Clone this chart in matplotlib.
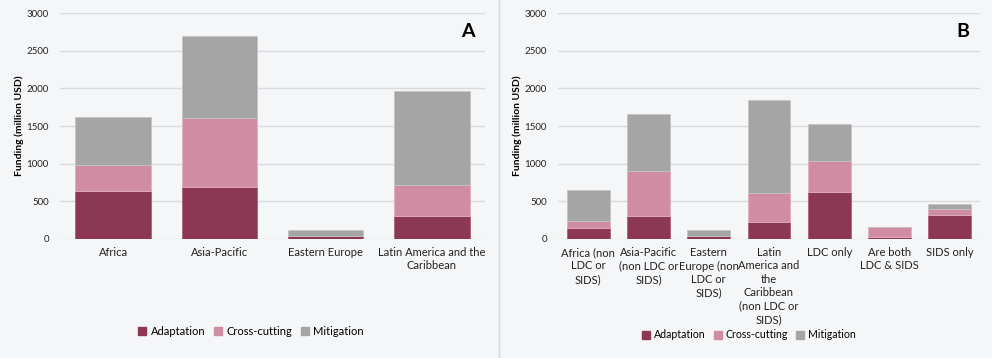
import numpy as np
import matplotlib.pyplot as plt
from matplotlib.lines import Line2D

# ---------------------------------------------------------------------------
# Data (million USD)
# ---------------------------------------------------------------------------
regions_a = ['Africa', 'Asia-Pacific', 'Eastern Europe',
             'Latin America and the\nCaribbean']
adapt_a = [635, 684, 36, 306]
cross_a = [346, 927, 6, 409]
mitig_a = [643, 1088, 70, 1252]

regions_b = ['Africa (non\nLDC or\nSIDS)', 'Asia-Pacific\n(non LDC or\nSIDS)',
             'Eastern\nEurope (non\nLDC or\nSIDS)',
             'Latin\nAmerica and\nthe\nCaribbean\n(non LDC or\nSIDS)',
             'LDC only', 'Are both\nLDC & SIDS', 'SIDS only']
adapt_b = [146, 306, 36, 226, 622, 27, 316]
cross_b = [90, 595, 6, 378, 409, 125, 79]
mitig_b = [416, 755, 70, 1243, 492, 4, 67]

series = ['Adaptation', 'Cross-cutting', 'Mitigation']
colors = ['#8c3753', '#cf8ca2', '#a5a5a5']
edges = ['#b0607a', '#e2b0c0', '#c4c4c4']

BG = '#f5f6f8'
plt.rcParams['font.family'] = ['Lato', 'DejaVu Sans']

fig = plt.figure(figsize=(9.92, 3.58), dpi=100, facecolor=BG)


def draw_panel(ax, cats, stacks, letter, legend_xy, legend_size):
    ax.set_facecolor(BG)
    x = np.arange(len(cats))
    bottom = np.zeros(len(cats))
    for vals, c, ec in zip(stacks, colors, edges):
        ax.bar(x, vals, width=0.71, bottom=bottom, color=c, edgecolor=ec,
               linewidth=0.6, zorder=3)
        bottom += np.array(vals)
    ax.set_ylim(0, 3000)
    ax.set_xlim(-0.5, len(cats) - 0.5)
    ax.set_yticks(np.arange(0, 3001, 500))
    ax.yaxis.grid(True, color='#dadbde', linewidth=1, zorder=0)
    for s in ax.spines.values():
        s.set_visible(False)
    ax.tick_params(axis='x', length=0, labelsize=8, colors='#222222', pad=6)
    ax.tick_params(axis='y', length=0, labelsize=7, colors='#222222', pad=8)
    ax.set_xticks(x)
    ax.set_xticklabels(cats, linespacing=1.27)
    ax.set_ylabel('Funding (million USD)', fontsize=7.5, fontweight='bold',
                  labelpad=2)
    ax.text(0.975, 0.955, letter, transform=ax.transAxes, ha='right',
            va='top', fontsize=14, fontweight='bold')
    handles = [Line2D([], [], marker='s', linestyle='none', markersize=5.5,
                      markerfacecolor=c, markeredgecolor=c) for c in colors]
    # legend is centred on the panel half of the figure, not on the axes
    ax.legend(handles, series, loc='center', ncol=3, frameon=False,
              bbox_to_anchor=legend_xy, bbox_transform=fig.transFigure,
              fontsize=legend_size, handlelength=0.7, handletextpad=0.4,
              columnspacing=0.8, borderaxespad=0)


ax_a = fig.add_axes([60 / 992, 1 - 238.7 / 358, 425 / 992, 225.4 / 358])
draw_panel(ax_a, regions_a, [adapt_a, cross_a, mitig_a], 'A',
           (251 / 992, 1 - 331.5 / 358), 8)

ax_b = fig.add_axes([558 / 992, 1 - 238.7 / 358, 422 / 992, 225.4 / 358])
draw_panel(ax_b, regions_b, [adapt_b, cross_b, mitig_b], 'B',
           (749 / 992, 1 - 335 / 358), 7.6)

# divider between the two panels
fig.add_artist(Line2D([498.5 / 992, 498.5 / 992], [0, 1],
                      transform=fig.transFigure, color='#d6d7da',
                      linewidth=1))

fig.savefig('out.png', dpi=100, facecolor=BG)
